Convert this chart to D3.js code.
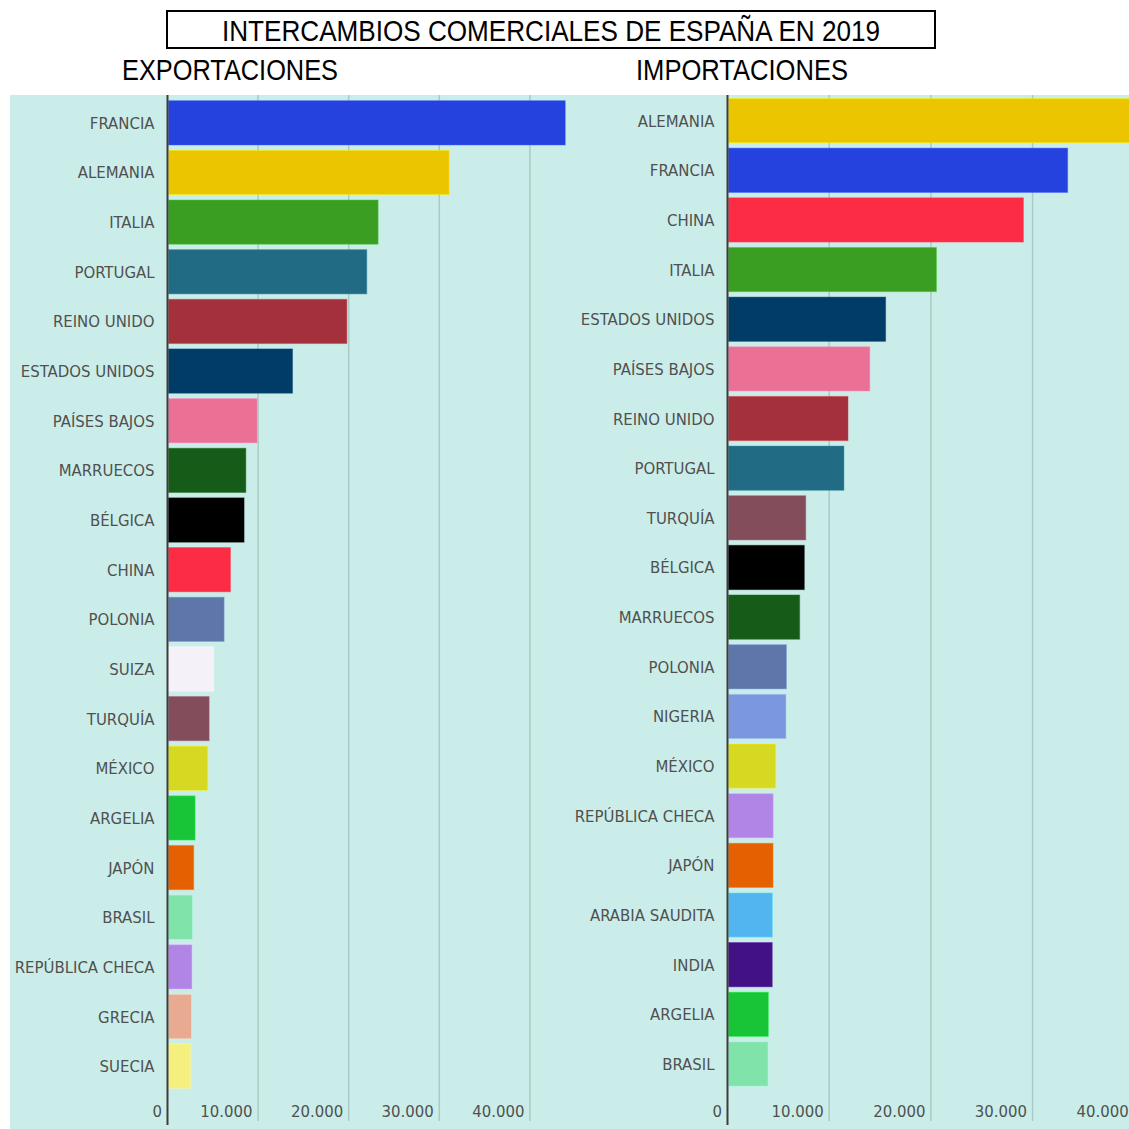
<!DOCTYPE html>
<html lang="es">
<head>
    <meta charset="UTF-8">
    <title>Intercambios comerciales de España en 2019</title>
    <script src="https://d3js.org/d3.v7.min.js"></script>
    <style>
        body {
            margin: 0;
            background: #ffffff;
        }
        .cat text, .ticks text {
            font-family: "DejaVu Sans Condensed", "DejaVu Sans", sans-serif;
            font-size: 16.6px;
            fill: #505050;
        }
        .heading {
            font-family: "Liberation Sans", Arial, sans-serif;
            fill: #000;
        }
    </style>
</head>
<body>
    <div id="chart"></div>

    <script>
        // Exportaciones (millones de euros)
        const expCountries = ["FRANCIA", "ALEMANIA", "ITALIA", "PORTUGAL", "REINO UNIDO", "ESTADOS UNIDOS",
            "PAÍSES BAJOS", "MARRUECOS", "BÉLGICA", "CHINA", "POLONIA", "SUIZA", "TURQUÍA", "MÉXICO",
            "ARGELIA", "JAPÓN", "BRASIL", "REPÚBLICA CHECA", "GRECIA", "SUECIA"];
        const expValues = [43900, 31100, 23250, 22000, 19800, 13800, 9900, 8650, 8450, 6950,
            6250, 5100, 4600, 4450, 3050, 2900, 2750, 2700, 2650, 2550];

        // Importaciones
        const impCountries = ["ALEMANIA", "FRANCIA", "CHINA", "ITALIA", "ESTADOS UNIDOS", "PAÍSES BAJOS",
            "REINO UNIDO", "PORTUGAL", "TURQUÍA", "BÉLGICA", "MARRUECOS", "POLONIA", "NIGERIA", "MÉXICO",
            "REPÚBLICA CHECA", "JAPÓN", "ARABIA SAUDITA", "INDIA", "ARGELIA", "BRASIL"];
        const impValues = [40500, 33450, 29100, 20550, 15550, 14000, 11850, 11450, 7700, 7550,
            7100, 5800, 5750, 4750, 4500, 4480, 4430, 4400, 4020, 3980];

        const tickValues = [0, 10000, 20000, 30000, 40000];

        const countryColors = {
            "FRANCIA": "#2541de", "ALEMANIA": "#ebc600", "ITALIA": "#3a9e22", "PORTUGAL": "#226b84",
            "REINO UNIDO": "#a3303b", "ESTADOS UNIDOS": "#013c66", "PAÍSES BAJOS": "#ea7096",
            "MARRUECOS": "#165b17", "BÉLGICA": "#000000", "CHINA": "#fc2c45", "POLONIA": "#5e76aa",
            "SUIZA": "#f5f1f8", "TURQUÍA": "#844d5c", "MÉXICO": "#d6d821", "ARGELIA": "#17c537",
            "JAPÓN": "#e46000", "BRASIL": "#80e3aa", "REPÚBLICA CHECA": "#b185e6", "GRECIA": "#e8aa90",
            "SUECIA": "#f5f07d", "NIGERIA": "#7b97dd", "ARABIA SAUDITA": "#52b5f0", "INDIA": "#421184"
        };

        const W = 1129, H = 1129;
        const fmt = d => d === 0 ? "0" : d3.format(",")(d).replace(/,/g, ".");

        const svg = d3.select("#chart").append("svg")
            .attr("width", W)
            .attr("height", H);

        // fondo de los graficos
        svg.append("rect")
            .attr("x", 10).attr("y", 95)
            .attr("width", W - 10).attr("height", H - 95)
            .attr("fill", "#cbede9");

        // titulo con recuadro
        svg.append("rect")
            .attr("x", 167).attr("y", 11)
            .attr("width", 768).attr("height", 37)
            .attr("fill", "#fff")
            .attr("stroke", "#000")
            .attr("stroke-width", 2);

        svg.append("text")
            .attr("class", "heading")
            .attr("x", 222).attr("y", 41)
            .attr("font-size", 29)
            .attr("textLength", 658)
            .attr("lengthAdjust", "spacingAndGlyphs")
            .text("INTERCAMBIOS COMERCIALES DE ESPAÑA EN 2019");

        function panel(opts) {
            const x = d3.scaleLinear()
                .domain([0, 40000])
                .range([opts.x0, opts.x0 + opts.pxPer10k * 4]);

            const y = d3.scaleBand()
                .domain(opts.countries)
                .range([opts.yTop, opts.yTop + 20 * 49.65])
                .paddingInner(0.108)
                .paddingOuter(0.054);

            // subtitulo
            svg.append("text")
                .attr("class", "heading")
                .attr("x", opts.headX).attr("y", 80)
                .attr("font-size", 29)
                .attr("textLength", opts.headLen)
                .attr("lengthAdjust", "spacingAndGlyphs")
                .text(opts.heading);

            const g = svg.append("g");

            // lineas de la cuadricula
            g.selectAll(".grid")
                .data(tickValues.slice(1))
                .enter()
                .append("line")
                .attr("x1", d => x(d)).attr("x2", d => x(d))
                .attr("y1", 95).attr("y2", 1121)
                .attr("stroke", "#abc9c6")
                .attr("stroke-width", 1.5);

            // barras
            g.selectAll(".bar")
                .data(opts.countries)
                .enter()
                .append("rect")
                .attr("x", x(0) + 1)
                .attr("y", d => y(d))
                .attr("width", (d, i) => x(opts.values[i]) - x(0) - 1)
                .attr("height", y.bandwidth())
                .attr("fill", d => countryColors[d])
                .attr("stroke", d => d3.color(countryColors[d]).brighter(0.8).formatHex())
                .attr("stroke-opacity", 0.45)
                .attr("stroke-width", 1);

            // eje cero
            g.append("line")
                .attr("x1", x(0)).attr("x2", x(0))
                .attr("y1", 95).attr("y2", 1125)
                .attr("stroke", "#3c3c3c")
                .attr("stroke-width", 2);

            // nombres de paises
            const cat = g.append("g")
                .attr("class", "cat")
                .attr("transform", `translate(${x(0)},0)`)
                .call(d3.axisLeft(y).tickSize(0).tickPadding(13));
            cat.select(".domain").remove();
            cat.selectAll("text").attr("dy", "0.36em");

            // valores del eje
            const ticks = g.append("g")
                .attr("class", "ticks")
                .attr("transform", "translate(0,1117)")
                .call(d3.axisBottom(x).tickValues(tickValues).tickFormat(fmt).tickSize(0).tickPadding(0));
            ticks.select(".domain").remove();
            ticks.selectAll("text")
                .attr("text-anchor", "end")
                .attr("x", -6)
                .attr("y", 0)
                .attr("dy", 0);
        }

        panel({
            countries: expCountries, values: expValues, heading: "EXPORTACIONES",
            x0: 167.5, pxPer10k: 90.6, yTop: 98, headX: 122, headLen: 216
        });

        panel({
            countries: impCountries, values: impValues, heading: "IMPORTACIONES",
            x0: 727.5, pxPer10k: 101.7, yTop: 95.8, headX: 636, headLen: 212
        });
    </script>
</body>
</html>
